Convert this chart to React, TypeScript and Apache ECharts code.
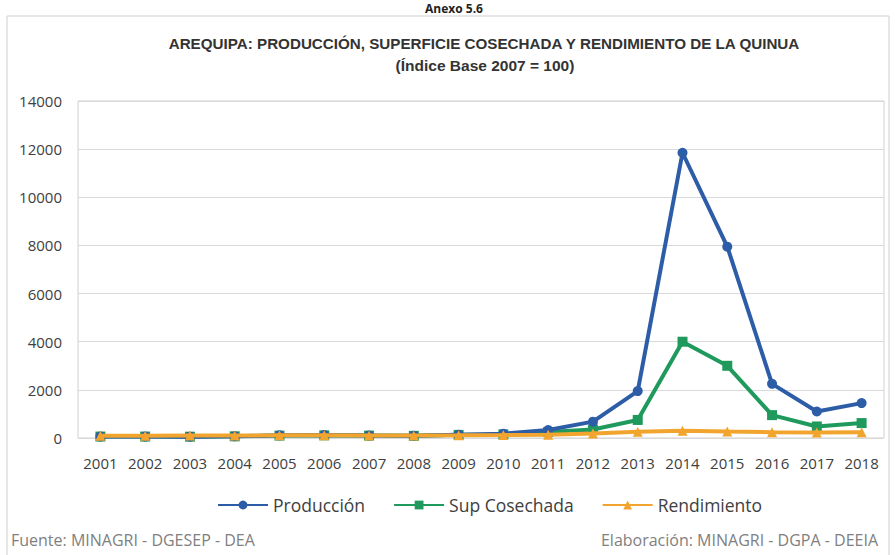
import React, { useEffect, useRef } from "react";
import * as echarts from "echarts";

const years = ["2001","2002","2003","2004","2005","2006","2007","2008","2009","2010","2011","2012","2013","2014","2015","2016","2017","2018"];
const produccion = [60, 60, 55, 70, 110, 120, 100, 95, 140, 180, 330, 680, 1950, 11850, 7950, 2250, 1100, 1450];
const supCosechada = [60, 60, 55, 70, 100, 110, 100, 90, 130, 150, 250, 350, 750, 4000, 3000, 950, 480, 620];
const rendimiento = [90, 95, 100, 100, 110, 110, 100, 105, 110, 120, 140, 190, 260, 300, 265, 240, 230, 235];

const BLUE = "#2E5DA8";
const GREEN = "#1F9A5C";
const ORANGE = "#F2A52E";

export default function App() {
  const ref = useRef<HTMLDivElement>(null);
  useEffect(() => {
    if (!ref.current) return;
    const chart = echarts.init(ref.current, null, { renderer: "svg" });
    const font = "Open Sans";
    chart.setOption({
      animation: false,
      backgroundColor: "#ffffff",
      textStyle: { fontFamily: font },
      graphic: [
        { type: "rect", shape: { x: 7, y: 16, width: 882, height: 560 }, style: { fill: "none", stroke: "#cfcfcf", lineWidth: 1 }, silent: true },
        { type: "text", x: 454, y: 2, style: { text: "Anexo 5.6", font: "bold 12px 'Open Sans'", fill: "#222", textAlign: "center", textVerticalAlign: "top" } },
        { type: "text", x: 484, y: 43, style: { text: "AREQUIPA: PRODUCCIÓN, SUPERFICIE COSECHADA Y RENDIMIENTO DE LA QUINUA", font: "bold 15.2px 'Liberation Sans'", fill: "#333", textAlign: "center", textVerticalAlign: "middle" } },
        { type: "text", x: 485, y: 65, style: { text: "(Índice Base 2007 = 100)", font: "bold 15.5px 'Liberation Sans'", fill: "#333", textAlign: "center", textVerticalAlign: "middle" } },
        { type: "text", x: 11, y: 540, style: { text: "Fuente: MINAGRI - DGESEP - DEA", font: "16px 'Open Sans'", fill: "#808080", textAlign: "left", textVerticalAlign: "middle" } },
        { type: "text", x: 878, y: 540, style: { text: "Elaboración: MINAGRI - DGPA - DEEIA", font: "16px 'Open Sans'", fill: "#808080", textAlign: "right", textVerticalAlign: "middle" } },
      ],
      grid: { left: 78, right: 11, top: 101, bottom: 117, containLabel: false, show: true, borderColor: "#d0d0d0", borderWidth: 1 },
      xAxis: {
        type: "category",
        data: years,
        boundaryGap: true,
        axisLine: { show: false },
        axisTick: { show: false },
        axisLabel: { color: "#404040", fontSize: 15, margin: 17, fontFamily: font, interval: 0 },
      },
      yAxis: {
        type: "value",
        min: 0,
        max: 14000,
        interval: 2000,
        axisLine: { show: false },
        axisTick: { show: false },
        splitLine: { lineStyle: { color: "#d9d9d9", width: 1 } },
        axisLabel: { color: "#404040", fontSize: 15, margin: 16, fontFamily: font, formatter: (v: number) => String(v) },
      },
      legend: {
        bottom: 36,
        left: 212,
        itemWidth: 50,
        itemHeight: 11,
        itemGap: 28,
        textStyle: { color: "#404040", fontSize: 17.5, fontFamily: font },
        data: ["Producción", "Sup Cosechada", "Rendimiento"],
      },
      series: [
        {
          name: "Producción",
          type: "line",
          data: produccion,
          symbol: "circle",
          symbolSize: 10,
          lineStyle: { color: BLUE, width: 4 },
          itemStyle: { color: BLUE },
          z: 3,
        },
        {
          name: "Sup Cosechada",
          type: "line",
          data: supCosechada,
          symbol: "rect",
          symbolSize: 10,
          lineStyle: { color: GREEN, width: 4 },
          itemStyle: { color: GREEN },
          z: 2,
        },
        {
          name: "Rendimiento",
          type: "line",
          data: rendimiento,
          symbol: "triangle",
          symbolSize: 10,
          lineStyle: { color: ORANGE, width: 4 },
          itemStyle: { color: ORANGE },
          z: 4,
        },
      ],
    });
    return () => chart.dispose();
  }, []);
  return <div ref={ref} style={{ position: "fixed", left: 0, top: 0, width: 895, height: 555 }} />;
}
